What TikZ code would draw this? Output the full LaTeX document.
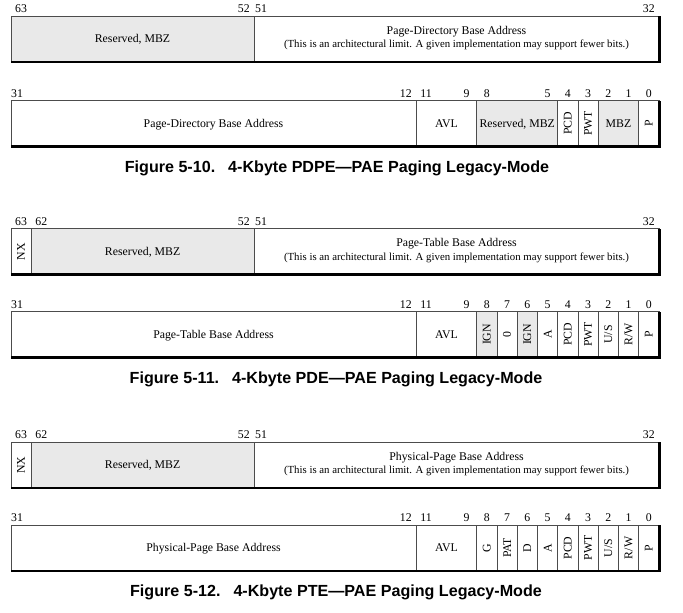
\documentclass[tikz,border=0pt]{standalone}
\usepackage{fontspec}
\setmainfont{Liberation Serif}
\newfontfamily\capfont{Liberation Sans}
\definecolor{mbz}{RGB}{233,233,233}
\tikzset{
  x=1pt, y=-1pt,
  fld/.style={draw=black!70, line width=0.9pt},
  shadowline/.style={draw=black, line width=2.6pt},
  htxt/.style={font=\fontsize{11.8}{13}\selectfont, inner sep=0pt, anchor=base},
  ntxt/.style={font=\fontsize{10.8}{12}\selectfont, inner sep=0pt, anchor=base},
  vtxt/.style={font=\fontsize{11.8}{13}\selectfont, inner sep=0pt, rotate=90},
  bitlabel/.style={font=\fontsize{11.8}{13}\selectfont, inner sep=0pt, anchor=base},
  figcaption/.style={font=\capfont\bfseries\fontsize{16.1}{18}\selectfont, inner sep=0pt, anchor=base},
}
% #1 name, #2 hi bit, #3 lo bit (0..31 columns), #4 top, #5 fill, #6 text
\newcommand{\hfield}[6]{%
  \path[fld,fill=#5] ({11+(31-#2)*20.25},#4) rectangle ({11+(32-#3)*20.25},{#4+46});
  \node[htxt] (#1) at ({11+(63-#2-#3)*10.125},{#4+26.5}) {#6};}
\newcommand{\vfield}[6]{%
  \path[fld,fill=#5] ({11+(31-#2)*20.25},#4) rectangle ({11+(32-#3)*20.25},{#4+46});
  \node[vtxt] (#1) at ({11+(63-#2-#3)*10.125},{#4+23}) {#6};}
% #1 name, #2 top, #3 title
\newcommand{\notefield}[3]{%
  \path[fld,fill=white] (254,#2) rectangle (659,{#2+46});
  \node[htxt] (#1t) at (456.5,{#2+18.3}) {#3};
  \node[ntxt] (#1n) at (456.5,{#2+31.7}) {(This is an architectural limit. A given implementation may support fewer bits.)};}
\newcommand{\shadowrow}[1]{%
  \draw[shadowline] (11,{#1+46}) -- (659.6,{#1+46}) -- (659.6,#1);}
% #1 name, #2 column bit, #3 top of row, #4 text
\newcommand{\bitn}[4]{%
  \node[bitlabel] (#1) at ({11+(31-#2)*20.25+10.125},{#3-3.5}) {#4};}
% #1 name, #2 x, #3 top of row, #4 text
\newcommand{\bitnx}[4]{%
  \node[bitlabel] (#1) at (#2,{#3-3.5}) {#4};}
\begin{document}
\begin{tikzpicture}
\useasboundingbox[fill=white] (0,0) rectangle (683,613);

% ---------------- Figure 5-10 ----------------
\hfield{aRes}{31}{20}{16}{mbz}{Reserved, MBZ}
\notefield{aHi}{16}{Page-Directory Base Address}
\shadowrow{16}
\bitn{aL63}{31}{16}{63}
\bitn{aL52}{20}{16}{52}
\bitnx{aL51}{261}{16}{51}
\bitn{aL32}{0}{16}{32}

\hfield{aLo}{31}{12}{100.5}{white}{Page-Directory Base Address}
\hfield{aAvl}{11}{9}{100.5}{white}{AVL}
\hfield{aRes2}{8}{5}{100.5}{mbz}{Reserved, MBZ}
\vfield{aPcd}{4}{4}{100.5}{white}{PCD}
\vfield{aPwt}{3}{3}{100.5}{white}{PWT}
\hfield{aMbz}{2}{1}{100.5}{mbz}{MBZ}
\vfield{aP}{0}{0}{100.5}{white}{P}
\shadowrow{100.5}
\bitnx{aB31}{17}{100.5}{31}
\bitn{aB12}{12}{100.5}{12}
\bitn{aB11}{11}{100.5}{11}
\bitn{aB9}{9}{100.5}{9}
\bitn{aB8}{8}{100.5}{8}
\bitn{aB5}{5}{100.5}{5}
\bitn{aB4}{4}{100.5}{4}
\bitn{aB3}{3}{100.5}{3}
\bitn{aB2}{2}{100.5}{2}
\bitn{aB1}{1}{100.5}{1}
\bitn{aB0}{0}{100.5}{0}
\node[figcaption] (capA) at (337,172.5) {Figure 5-10.\hspace{13pt}4-Kbyte PDPE—PAE Paging Legacy-Mode};

% ---------------- Figure 5-11 ----------------
\vfield{bNx}{31}{31}{228.5}{white}{NX}
\hfield{bRes}{30}{20}{228.5}{mbz}{Reserved, MBZ}
\notefield{bHi}{228.5}{Page-Table Base Address}
\shadowrow{228.5}
\bitn{bL63}{31}{228.5}{63}
\bitn{bL62}{30}{228.5}{62}
\bitn{bL52}{20}{228.5}{52}
\bitnx{bL51}{261}{228.5}{51}
\bitn{bL32}{0}{228.5}{32}

\hfield{bLo}{31}{12}{311.5}{white}{Page-Table Base Address}
\hfield{bAvl}{11}{9}{311.5}{white}{AVL}
\vfield{bIgn8}{8}{8}{311.5}{mbz}{IGN}
\vfield{bZero}{7}{7}{311.5}{white}{0}
\vfield{bIgn6}{6}{6}{311.5}{mbz}{IGN}
\vfield{bA}{5}{5}{311.5}{white}{A}
\vfield{bPcd}{4}{4}{311.5}{white}{PCD}
\vfield{bPwt}{3}{3}{311.5}{white}{PWT}
\vfield{bUs}{2}{2}{311.5}{white}{U/S}
\vfield{bRw}{1}{1}{311.5}{white}{R/W}
\vfield{bP}{0}{0}{311.5}{white}{P}
\shadowrow{311.5}
\bitnx{bB31}{17}{311.5}{31}
\bitn{bB12}{12}{311.5}{12}
\bitn{bB11}{11}{311.5}{11}
\bitn{bB9}{9}{311.5}{9}
\bitn{bB8}{8}{311.5}{8}
\bitn{bB7}{7}{311.5}{7}
\bitn{bB6}{6}{311.5}{6}
\bitn{bB5}{5}{311.5}{5}
\bitn{bB4}{4}{311.5}{4}
\bitn{bB3}{3}{311.5}{3}
\bitn{bB2}{2}{311.5}{2}
\bitn{bB1}{1}{311.5}{1}
\bitn{bB0}{0}{311.5}{0}
\node[figcaption] (capB) at (336,383) {Figure 5-11.\hspace{13pt}4-Kbyte PDE—PAE Paging Legacy-Mode};

% ---------------- Figure 5-12 ----------------
\vfield{cNx}{31}{31}{442}{white}{NX}
\hfield{cRes}{30}{20}{442}{mbz}{Reserved, MBZ}
\notefield{cHi}{442}{Physical-Page Base Address}
\shadowrow{442}
\bitn{cL63}{31}{442}{63}
\bitn{cL62}{30}{442}{62}
\bitn{cL52}{20}{442}{52}
\bitnx{cL51}{261}{442}{51}
\bitn{cL32}{0}{442}{32}

\hfield{cLo}{31}{12}{525}{white}{Physical-Page Base Address}
\hfield{cAvl}{11}{9}{525}{white}{AVL}
\vfield{cG}{8}{8}{525}{white}{G}
\vfield{cPat}{7}{7}{525}{white}{PAT}
\vfield{cD}{6}{6}{525}{white}{D}
\vfield{cA}{5}{5}{525}{white}{A}
\vfield{cPcd}{4}{4}{525}{white}{PCD}
\vfield{cPwt}{3}{3}{525}{white}{PWT}
\vfield{cUs}{2}{2}{525}{white}{U/S}
\vfield{cRw}{1}{1}{525}{white}{R/W}
\vfield{cP}{0}{0}{525}{white}{P}
\shadowrow{525}
\bitnx{cB31}{17}{525}{31}
\bitn{cB12}{12}{525}{12}
\bitn{cB11}{11}{525}{11}
\bitn{cB9}{9}{525}{9}
\bitn{cB8}{8}{525}{8}
\bitn{cB7}{7}{525}{7}
\bitn{cB6}{6}{525}{6}
\bitn{cB5}{5}{525}{5}
\bitn{cB4}{4}{525}{4}
\bitn{cB3}{3}{525}{3}
\bitn{cB2}{2}{525}{2}
\bitn{cB1}{1}{525}{1}
\bitn{cB0}{0}{525}{0}
\node[figcaption] (capC) at (336,596) {Figure 5-12.\hspace{13pt}4-Kbyte PTE—PAE Paging Legacy-Mode};
\end{tikzpicture}
\end{document}
